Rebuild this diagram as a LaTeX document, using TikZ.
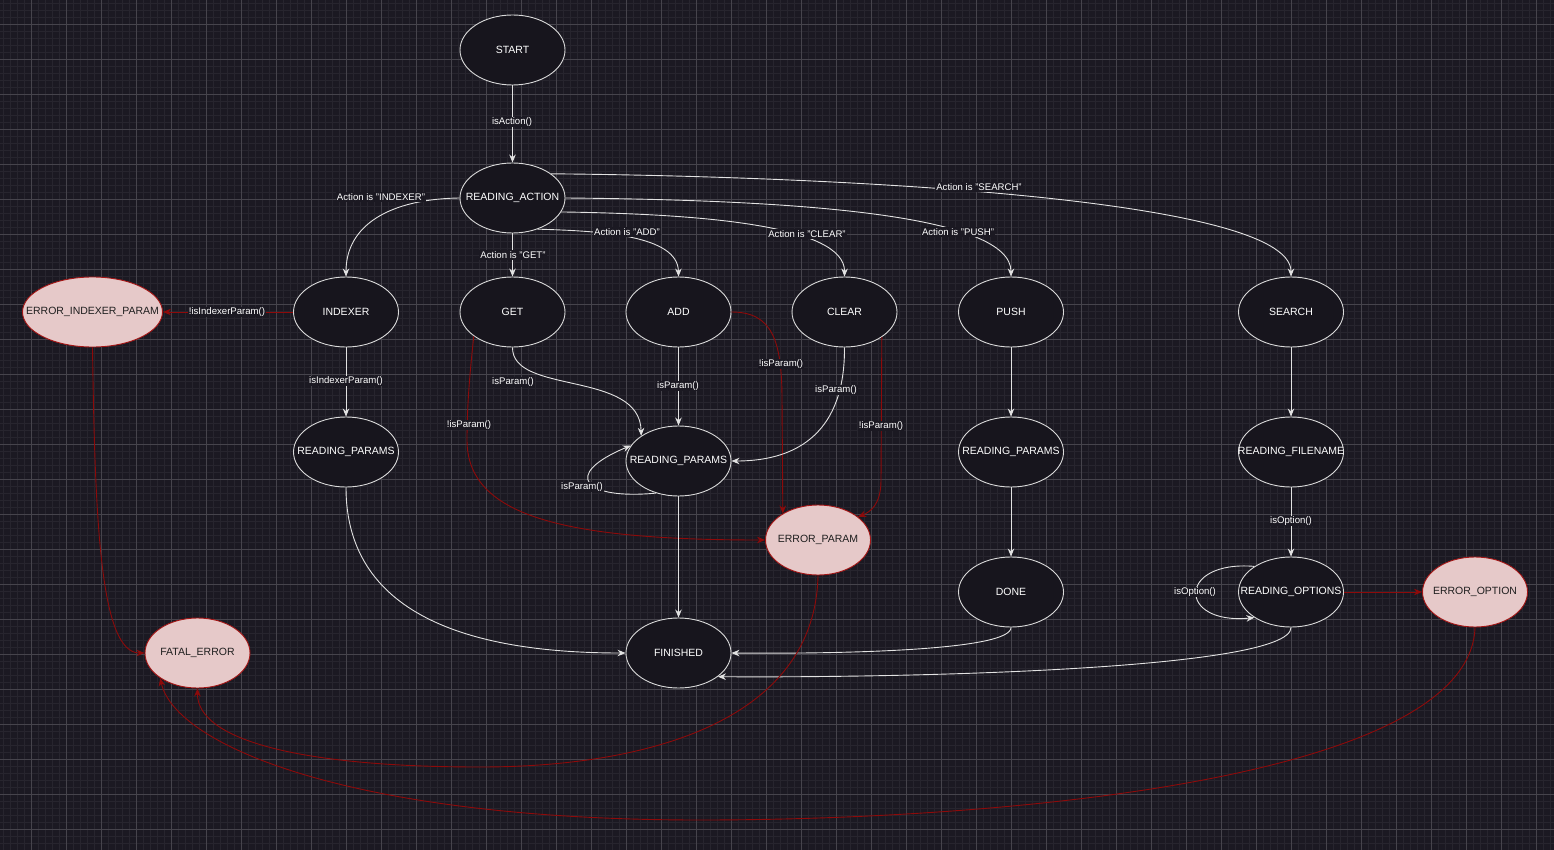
\documentclass[tikz,border=0pt]{standalone}
\usepackage{fontspec}
\setmainfont{Liberation Sans}
\usetikzlibrary{shapes.geometric,arrows.meta}
\definecolor{bgc}{HTML}{1B1922}
\definecolor{minorc}{HTML}{27252E}
\definecolor{majorc}{HTML}{46444C}
\definecolor{nodefill}{HTML}{17151D}
\definecolor{nodeline}{HTML}{DADADA}
\definecolor{edgec}{HTML}{E2E2E2}
\definecolor{redc}{HTML}{8E0A0A}
\definecolor{errfill}{HTML}{E6C9C9}
\definecolor{errline}{HTML}{A31515}
\definecolor{errtext}{HTML}{1E1E1E}
\newcommand\nodetext[1]{\makebox[0pt]{#1}}
\tikzset{
 state/.style={ellipse, draw=nodeline, fill=nodefill, line width=0.9pt, minimum width=105pt, minimum height=70pt, inner sep=0pt, text=white, font=\fontsize{10.5}{12}\selectfont},
 errstate/.style={state, draw=errline, fill=errfill, text=errtext},
 widestate/.style={minimum width=140pt},
 edge/.style={draw=edgec, line width=0.9pt, -{Stealth[length=8pt,width=6.5pt]}},
 redge/.style={draw=redc, line width=0.9pt, -{Stealth[length=8pt,width=6.5pt]}},
 lbl/.style={fill=bgc, text=white, inner sep=1pt, font=\fontsize{9.6}{11}\selectfont},
 minorline/.style={draw=minorc, line width=0.8pt},
 majorline/.style={draw=majorc, line width=0.8pt},
}
\begin{document}
\begin{tikzpicture}[x=1pt,y=-1pt]
\useasboundingbox (0,0) rectangle (1554,850);
\fill[bgc] (0,0) rectangle (1554,850);
% grid
\foreach \i in {0,...,221} { \draw[minorline] ({3.7+7*\i},0) -- ({3.7+7*\i},850); }
\foreach \j in {0,...,121} { \draw[minorline] (0,{3.3+7*\j}) -- (1554,{3.3+7*\j}); }
\foreach \i in {0,...,43} { \draw[majorline] ({31.7+35*\i},0) -- ({31.7+35*\i},850); }
\foreach \j in {0,...,23} { \draw[majorline] (0,{24.3+35*\j}) -- (1554,{24.3+35*\j}); }

% nodes
\node[state] (start) at (512.5,50) {\nodetext{START}};
\node[state] (ra) at (512.5,198) {\nodetext{READING\_ACTION}};
\node[state] (indexer) at (346,312) {\nodetext{INDEXER}};
\node[state] (get) at (512.5,312) {\nodetext{GET}};
\node[state] (add) at (678.5,312) {\nodetext{ADD}};
\node[state] (clear) at (844.5,312) {\nodetext{CLEAR}};
\node[state] (push) at (1011,312) {\nodetext{PUSH}};
\node[state] (search) at (1291,312) {\nodetext{SEARCH}};
\node[errstate,widestate] (eip) at (92.5,312) {\nodetext{ERROR\_INDEXER\_PARAM}};
\node[state] (rp1) at (346,452) {\nodetext{READING\_PARAMS}};
\node[state] (rp2) at (678.5,461) {\nodetext{READING\_PARAMS}};
\node[errstate] (ep) at (818,540) {\nodetext{ERROR\_PARAM}};
\node[state] (rp3) at (1011,452) {\nodetext{READING\_PARAMS}};
\node[state] (rf) at (1291,452) {\nodetext{READING\_FILENAME}};
\node[state] (done) at (1011,592) {\nodetext{DONE}};
\node[state] (ro) at (1291,592) {\nodetext{READING\_OPTIONS}};
\node[errstate] (eo) at (1475,592) {\nodetext{ERROR\_OPTION}};
\node[state] (fin) at (678.5,653) {\nodetext{FINISHED}};
\node[errstate] (fe) at (197.5,653) {\nodetext{FATAL\_ERROR}};

% edges
\draw[edge] (start.south) -- (ra.north);
\draw[edge] (ra.west) .. controls (390,199) and (346,225) .. (indexer.north);
\draw[edge] (ra.south) -- (get.north);
\draw[edge] (ra.-51) .. controls (600,231) and (678,235) .. (add.north);
\draw[edge] (ra.-16) .. controls (700,214) and (845,225) .. (clear.north);
\draw[edge] (ra.east) .. controls (800,200) and (1011,215) .. (push.north);
\draw[edge] (ra.32) .. controls (800,176) and (1291,195) .. (search.north);
\draw[redge] (indexer.west) -- (eip.east);
\draw[edge] (indexer.south) -- (rp1.north);
\draw[edge] (get.south) .. controls (512,395) and (640,370) .. (rp2.146);
\draw[redge] (get.212) .. controls (469,380) and (467,410) .. (467,440) .. controls (467,515) and (560,540) .. (ep.west);
\draw[edge] (add.south) -- (rp2.north);
\draw[redge] (add.east) .. controls (772,312) and (782,340) .. (782,400) -- (ep.143);
\draw[edge] (clear.south) .. controls (845,430) and (800,461) .. (rp2.east);
\draw[redge] (clear.-34) -- (881,480) .. controls (881,505) and (870,512) .. (ep.30);
\draw[edge] (rp2.235) .. controls (585,500) and (560,475) .. (rp2.162);
\draw[edge] (rp2.south) -- (fin.north);
\draw[edge] (rp1.south) .. controls (346,620) and (480,653) .. (fin.west);
\draw[edge] (push.south) -- (rp3.north);
\draw[edge] (rp3.south) -- (done.north);
\draw[edge] (done.south) .. controls (1011,650) and (850,654) .. (fin.east);
\draw[edge] (search.south) -- (rf.north);
\draw[edge] (rf.south) -- (ro.north);
\draw[edge] (ro.south) .. controls (1291,670) and (900,678) .. (fin.-31);
\draw[edge] (ro.145) .. controls (1177,560) and (1177,625) .. (ro.215);
\draw[redge] (ro.east) -- (eo.west);
\draw[redge] (eip.south) .. controls (95,520) and (100,653) .. (fe.west);
\draw[redge] (ep.south) .. controls (815,720) and (650,767) .. (480,767) .. controls (300,767) and (197,740) .. (fe.south);
\draw[redge] (eo.south) .. controls (1470,780) and (1000,820) .. (700,820) .. controls (350,820) and (175,745) .. (fe.214);

% labels
\node[lbl] (l1) at (512,122) {isAction()};
\node[lbl] (l2) at (381,197) {Action is "INDEXER"};
\node[lbl] (l3) at (513,255) {Action is "GET"};
\node[lbl] (l4) at (627,232) {Action is "ADD"};
\node[lbl] (l5) at (807,234) {Action is "CLEAR"};
\node[lbl] (l6) at (958,232) {Action is "PUSH"};
\node[lbl] (l7) at (979,187) {Action is "SEARCH"};
\node[lbl] (l8) at (227,312) {!isIndexerParam()};
\node[lbl] (l9) at (346,381) {isIndexerParam()};
\node[lbl] (l10) at (513,382) {isParam()};
\node[lbl] (l11) at (469,425) {!isParam()};
\node[lbl] (l12) at (678,386) {isParam()};
\node[lbl] (l13) at (781,364) {!isParam()};
\node[lbl] (l14) at (836,390) {isParam()};
\node[lbl] (l15) at (881,426) {!isParam()};
\node[lbl] (l16) at (582,487) {isParam()};
\node[lbl] (l17) at (1291,521) {isOption()};
\node[lbl] (l18) at (1195,592) {isOption()};
\end{tikzpicture}
\end{document}
